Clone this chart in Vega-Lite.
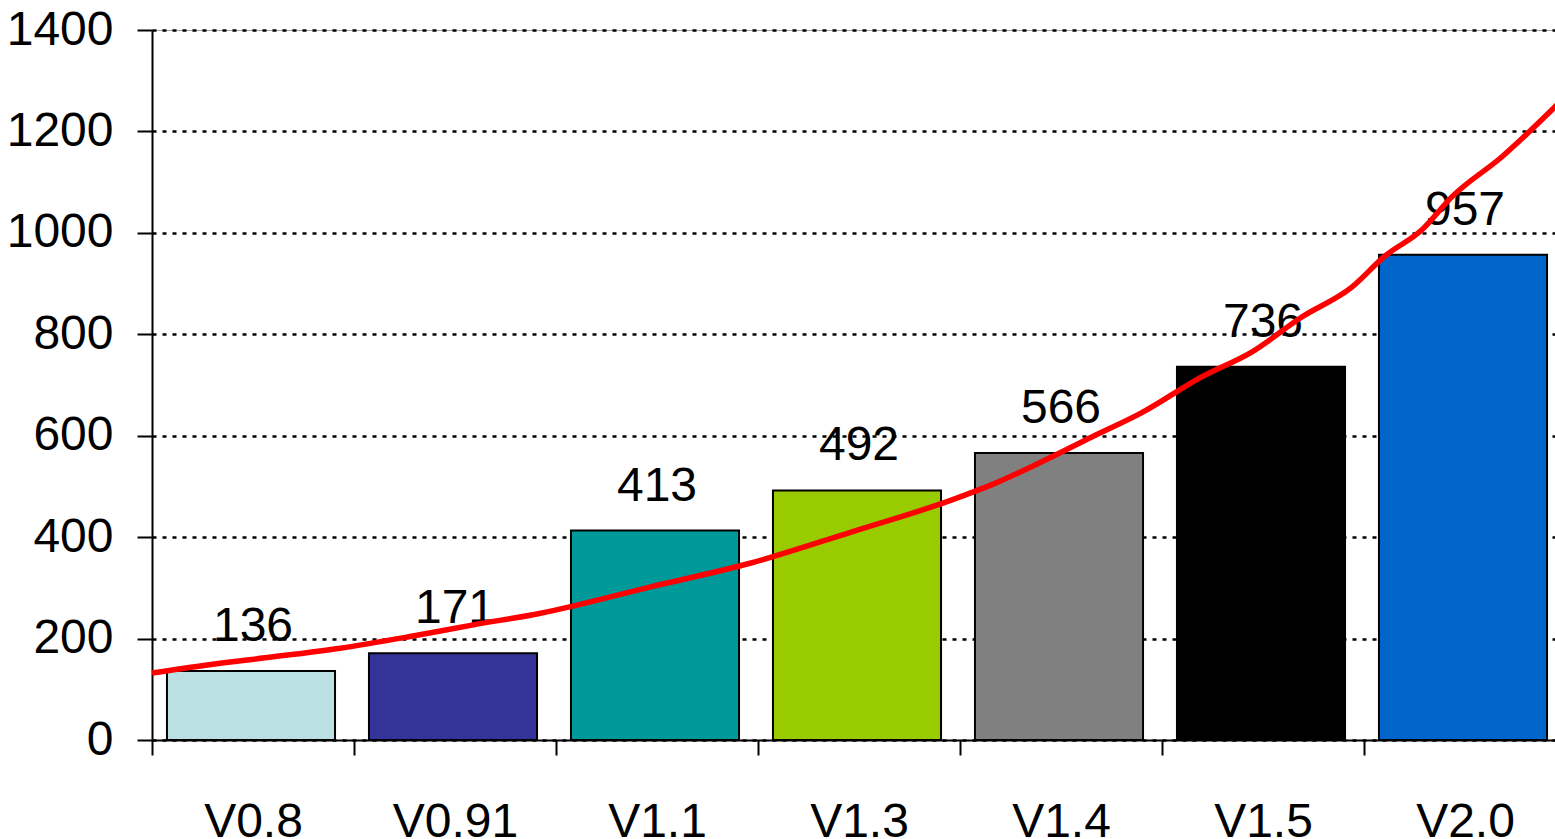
{
  "$schema": "https://vega.github.io/schema/vega-lite/v6.json",
  "width": 1403,
  "height": 710,
  "autosize": "none",
  "padding": {"left": 152, "top": 30, "right": 0, "bottom": 99},
  "background": "white",
  "config": {
    "view": {"stroke": "#a0a0a0", "strokeWidth": 1},
    "font": "Liberation Sans"
  },
  "datasets": {
    "bars": [
      {"version": "V0.8", "value": 136},
      {"version": "V0.91", "value": 171},
      {"version": "V1.1", "value": 413},
      {"version": "V1.3", "value": 492},
      {"version": "V1.4", "value": 566},
      {"version": "V1.5", "value": 736},
      {"version": "V2.0", "value": 957}
    ],
    "trend": [
      {"t": 0.0, "v": 132},
      {"t": 0.273, "v": 148},
      {"t": 0.6, "v": 164},
      {"t": 0.932, "v": 181},
      {"t": 1.264, "v": 203},
      {"t": 1.591, "v": 227},
      {"t": 1.924, "v": 250},
      {"t": 2.469, "v": 302},
      {"t": 2.965, "v": 349},
      {"t": 3.461, "v": 410},
      {"t": 3.957, "v": 473},
      {"t": 4.155, "v": 503},
      {"t": 4.402, "v": 548},
      {"t": 4.65, "v": 597},
      {"t": 4.898, "v": 645},
      {"t": 5.196, "v": 716},
      {"t": 5.444, "v": 765},
      {"t": 5.692, "v": 834},
      {"t": 5.94, "v": 893},
      {"t": 6.103, "v": 954},
      {"t": 6.287, "v": 1006},
      {"t": 6.435, "v": 1071},
      {"t": 6.683, "v": 1150},
      {"t": 6.955, "v": 1252}
    ]
  },
  "layer": [
    {
      "data": {"name": "bars"},
      "encoding": {
        "x": {
          "field": "version",
          "type": "nominal",
          "sort": null,
          "scale": {"range": [0, 1414], "paddingInner": 0, "paddingOuter": 0},
          "axis": {
            "title": null,
            "tickBand": "extent",
            "labelAngle": 0,
            "labelFontSize": 48,
            "labelBaseline": "alphabetic",
            "labelPadding": 81,
            "labelColor": "black",
            "tickSize": 15,
            "tickWidth": 2,
            "tickColor": "black",
            "domainColor": "black",
            "domainWidth": 2,
            "grid": false
          }
        },
        "y": {
          "field": "value",
          "type": "quantitative",
          "scale": {"domain": [0, 1400]},
          "axis": {
            "title": null,
            "format": "d",
            "values": [0, 200, 400, 600, 800, 1000, 1200, 1400],
            "grid": true,
            "gridColor": "black",
            "gridDash": [4, 6],
            "gridWidth": 2.5,
            "tickSize": 15,
            "tickWidth": 2,
            "tickColor": "black",
            "domainColor": "black",
            "domainWidth": 2,
            "labelFontSize": 48,
            "labelPadding": 24,
            "labelColor": "black"
          }
        }
      },
      "layer": [
        {
          "mark": {"type": "bar", "stroke": "black", "strokeWidth": 2, "width": {"band": 0.832}, "xOffset": -2},
          "encoding": {
            "color": {
              "field": "version",
              "type": "nominal",
              "sort": null,
              "scale": {
                "domain": ["V0.8", "V0.91", "V1.1", "V1.3", "V1.4", "V1.5", "V2.0"],
                "range": ["#bae0e3", "#333399", "#009999", "#99cc00", "#808080", "#000000", "#0066cc"]
              },
              "legend": null
            }
          }
        },
        {
          "mark": {"type": "text", "dy": -30, "baseline": "alphabetic", "fontSize": 48, "color": "black"},
          "encoding": {"text": {"field": "value", "type": "quantitative"}}
        }
      ]
    },
    {
      "data": {"name": "trend"},
      "mark": {"type": "line", "color": "#ff0000", "strokeWidth": 5.5, "interpolate": "monotone"},
      "encoding": {
        "x": {
          "field": "t",
          "type": "quantitative",
          "scale": {"domain": [0, 7], "range": [0, 1414], "nice": false, "zero": false},
          "axis": null
        },
        "y": {"field": "v", "type": "quantitative"}
      }
    }
  ],
  "resolve": {"scale": {"x": "independent"}}
}
